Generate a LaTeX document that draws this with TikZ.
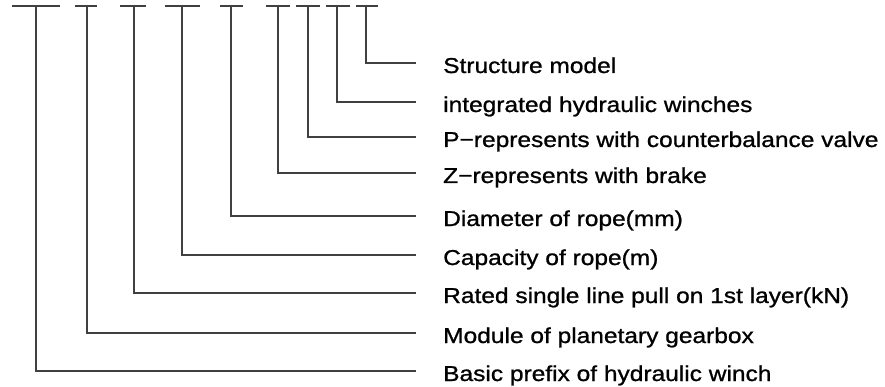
\documentclass[tikz,border=0pt]{standalone}
\usepackage{fontspec}
\setmainfont{Liberation Sans}[FakeStretch=1.14,FakeBold=1]
\usepackage{tikz}

\begin{document}
\begin{tikzpicture}[x=1pt,y=-1pt,
  lbl/.style={anchor=west,inner sep=0pt,text height=15pt,text depth=4pt,font=\fontsize{21.5}{24}\selectfont},
  rule/.style={draw=black!75,line width=1.2pt}]
\useasboundingbox (0,0) rectangle (885,387);

% ticks on top
\coordinate (T1a) at (12,6);  \coordinate (T1b) at (60,6);  \coordinate (T1) at (36,6);
\coordinate (T2a) at (75,6);  \coordinate (T2b) at (97,6);  \coordinate (T2) at (87,6);
\coordinate (T3a) at (120,6); \coordinate (T3b) at (146,6); \coordinate (T3) at (134,6);
\coordinate (T4a) at (165,6); \coordinate (T4b) at (200,6); \coordinate (T4) at (182,6);
\coordinate (T5a) at (220,6); \coordinate (T5b) at (243,6); \coordinate (T5) at (231,6);
\coordinate (T6a) at (266,6); \coordinate (T6b) at (290,6); \coordinate (T6) at (278,6);
\coordinate (T7a) at (296,6); \coordinate (T7b) at (320,6); \coordinate (T7) at (308,6);
\coordinate (T8a) at (326,6); \coordinate (T8b) at (350,6); \coordinate (T8) at (337,6);
\coordinate (T9a) at (356,6); \coordinate (T9b) at (378,6); \coordinate (T9) at (366,6);

% line ends
\coordinate (E9) at (416,63);
\coordinate (E8) at (416,102);
\coordinate (E7) at (416,137);
\coordinate (E6) at (416,173);
\coordinate (E5) at (416,216);
\coordinate (E4) at (416,255);
\coordinate (E3) at (416,293);
\coordinate (E2) at (416,333);
\coordinate (E1) at (416,371);

% labels
\node[lbl](L9) at (443,67.5) {Structure model};
\node[lbl](L8) at (443,106.5) {integrated hydraulic winches};
\node[lbl](L7) at (443,141.5) {P\symbol{"2212}represents with counterbalance valve};
\node[lbl](L6) at (443,177.5) {Z\symbol{"2212}represents with brake};
\node[lbl](L5) at (443,220.5) {Diameter of rope(mm)};
\node[lbl](L4) at (443,259.5) {Capacity of rope(m)};
\node[lbl](L3) at (443,297.5) {Rated single line pull on 1st layer(kN)};
\node[lbl](L2) at (443,337.5) {Module of planetary gearbox};
\node[lbl](L1) at (443,375.5) {Basic prefix of hydraulic winch};

\path[rule] (T1a) -- (T1b) (T2a) -- (T2b) (T3a) -- (T3b);
\path[rule] (T4a) -- (T4b) (T5a) -- (T5b) (T6a) -- (T6b);
\path[rule] (T7a) -- (T7b) (T8a) -- (T8b) (T9a) -- (T9b);

\path[rule] (T9) |- (E9);
\path[rule] (T8) |- (E8);
\path[rule] (T7) |- (E7);
\path[rule] (T6) |- (E6);
\path[rule] (T5) |- (E5);
\path[rule] (T4) |- (E4);
\path[rule] (T3) |- (E3);
\path[rule] (T2) |- (E2);
\path[rule] (T1) |- (E1);
\end{tikzpicture}
\end{document}
